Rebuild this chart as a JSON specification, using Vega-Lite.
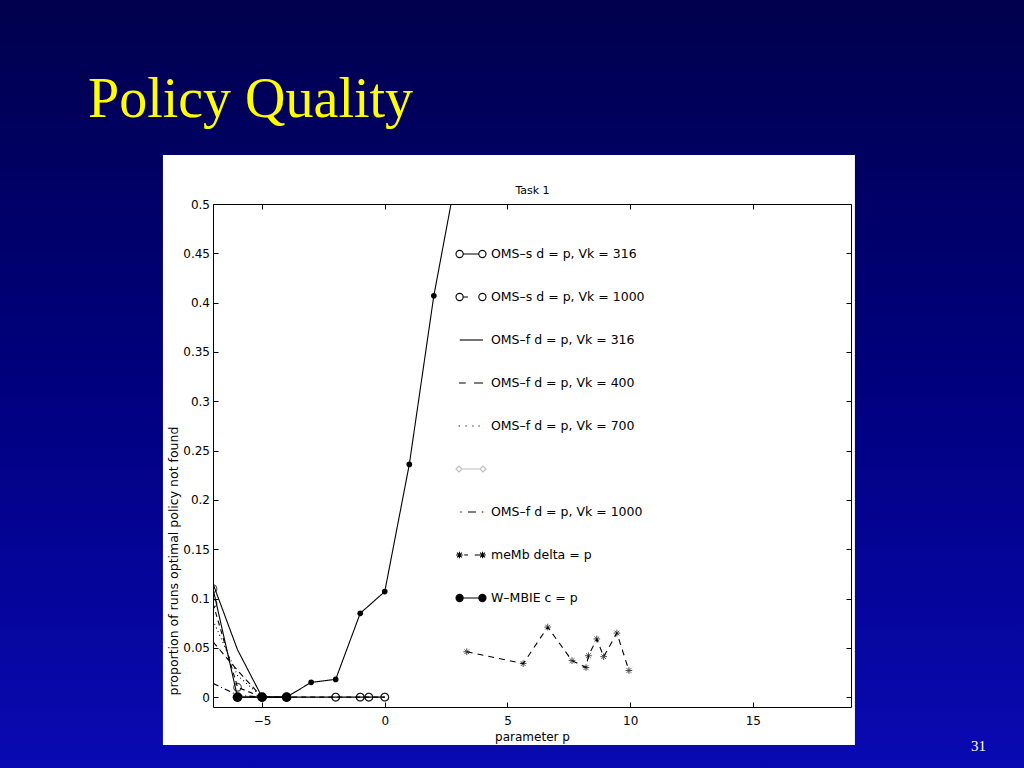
{
  "$schema": "https://vega.github.io/schema/vega-lite/v6.json",
  "width": 638,
  "height": 503,
  "autosize": {"type": "none"},
  "padding": {"left": 213, "top": 204, "right": 173, "bottom": 61},
  "background": "#000080",
  "title": {
    "text": "Policy Quality",
    "anchor": "start",
    "frame": "group",
    "font": "Liberation Serif",
    "fontSize": 56,
    "fontWeight": "normal",
    "color": "#ffff00",
    "dx": -125,
    "dy": 186,
    "baseline": "alphabetic",
    "offset": 0
  },
  "data": {
    "values": [
      {"series": "OMS–s d = p, Vk = 316", "p": -7, "v": 0.11},
      {"series": "OMS–s d = p, Vk = 316", "p": -6, "v": 0},
      {"series": "OMS–s d = p, Vk = 316", "p": -5, "v": 0},
      {"series": "OMS–s d = p, Vk = 316", "p": -4, "v": 0},
      {"series": "OMS–s d = p, Vk = 316", "p": -2, "v": 0},
      {"series": "OMS–s d = p, Vk = 316", "p": -1, "v": 0},
      {"series": "OMS–s d = p, Vk = 316", "p": -0.65, "v": 0},
      {"series": "OMS–s d = p, Vk = 316", "p": 0, "v": 0},
      {"series": "OMS–s d = p, Vk = 1000", "p": -7, "v": 0.095},
      {"series": "OMS–s d = p, Vk = 1000", "p": -6, "v": 0.01},
      {"series": "OMS–s d = p, Vk = 1000", "p": -5, "v": 0},
      {"series": "OMS–s d = p, Vk = 1000", "p": -4, "v": 0},
      {"series": "OMS–s d = p, Vk = 1000", "p": -2, "v": 0},
      {"series": "OMS–s d = p, Vk = 1000", "p": -1, "v": 0},
      {"series": "OMS–s d = p, Vk = 1000", "p": -0.65, "v": 0},
      {"series": "OMS–s d = p, Vk = 1000", "p": 0, "v": 0},
      {"series": "OMS–f d = p, Vk = 316", "p": -7, "v": 0.115},
      {"series": "OMS–f d = p, Vk = 316", "p": -6, "v": 0.048},
      {"series": "OMS–f d = p, Vk = 316", "p": -5, "v": 0},
      {"series": "OMS–f d = p, Vk = 316", "p": -4, "v": 0},
      {"series": "OMS–f d = p, Vk = 400", "p": -7, "v": 0.056},
      {"series": "OMS–f d = p, Vk = 400", "p": -6, "v": 0.027},
      {"series": "OMS–f d = p, Vk = 400", "p": -5, "v": 0},
      {"series": "OMS–f d = p, Vk = 700", "p": -7, "v": 0.078},
      {"series": "OMS–f d = p, Vk = 700", "p": -6, "v": 0.022},
      {"series": "OMS–f d = p, Vk = 700", "p": -5, "v": 0},
      {"series": "OMS–f d = p, Vk = 1000", "p": -7, "v": 0.014},
      {"series": "OMS–f d = p, Vk = 1000", "p": -6, "v": 0.002},
      {"series": "OMS–f d = p, Vk = 1000", "p": -5, "v": 0},
      {"series": "meMb delta = p", "p": 3.34, "v": 0.046},
      {"series": "meMb delta = p", "p": 5.64, "v": 0.034},
      {"series": "meMb delta = p", "p": 6.64, "v": 0.071},
      {"series": "meMb delta = p", "p": 7.63, "v": 0.037},
      {"series": "meMb delta = p", "p": 8.2, "v": 0.03},
      {"series": "meMb delta = p", "p": 8.3, "v": 0.042},
      {"series": "meMb delta = p", "p": 8.64, "v": 0.059},
      {"series": "meMb delta = p", "p": 8.92, "v": 0.041},
      {"series": "meMb delta = p", "p": 9.46, "v": 0.065},
      {"series": "meMb delta = p", "p": 9.95, "v": 0.027},
      {"series": "W–MBIE c = p", "p": -6, "v": 0},
      {"series": "W–MBIE c = p", "p": -5, "v": 0},
      {"series": "W–MBIE c = p", "p": -4, "v": 0},
      {"series": "W–MBIE c = p", "p": -3, "v": 0.015},
      {"series": "W–MBIE c = p", "p": -2, "v": 0.018},
      {"series": "W–MBIE c = p", "p": -1, "v": 0.085},
      {"series": "W–MBIE c = p", "p": 0, "v": 0.107},
      {"series": "W–MBIE c = p", "p": 1, "v": 0.236},
      {"series": "W–MBIE c = p", "p": 2, "v": 0.407},
      {"series": "W–MBIE c = p", "p": 3, "v": 0.54}
    ]
  },
  "resolve": {"axis": {"x": "independent", "y": "independent"}},
  "layer": [
    {
      "data": {"values": [{}]},
      "mark": {
        "type": "rect",
        "clip": false,
        "fill": {
          "gradient": "linear", "x1": 0, "y1": 0, "x2": 0, "y2": 1,
          "stops": [
            {"offset": 0, "color": "#00004c"},
            {"offset": 0.5, "color": "#00007e"},
            {"offset": 1, "color": "#0a0ab4"}
          ]
        }
      },
      "encoding": {
        "x": {"datum": -16, "type": "quantitative", "scale": {"domain": [-7, 19], "nice": false, "zero": false}, "axis": null},
        "x2": {"datum": 27},
        "y": {"datum": 0.72, "type": "quantitative", "scale": {"domain": [-0.01, 0.5], "nice": false, "zero": false}, "axis": null},
        "y2": {"datum": -0.08}
      }
    },
    {
      "data": {"values": [{}]},
      "mark": {"type": "rect", "clip": false, "fill": "#ffffff"},
      "encoding": {
        "x": {"datum": -9.04, "type": "quantitative", "axis": null},
        "x2": {"datum": 19.16},
        "y": {"datum": 0.5497, "type": "quantitative", "axis": null},
        "y2": {"datum": -0.0485}
      }
    },
    {
      "mark": {"type": "line", "clip": true, "color": "#000000", "strokeWidth": 1.1},
      "encoding": {
        "x": {
          "field": "p", "type": "quantitative",
          "axis": {
            "orient": "bottom", "zindex": 1, "values": [-5, 0, 5, 10, 15], "format": "~g",
            "tickSize": -5, "labelPadding": 13,
            "title": "parameter p", "titleX": 319, "titleY": 33,
            "titleAlign": "center", "titleBaseline": "alphabetic", "titleFontSize": 12
          }
        },
        "y": {
          "field": "v", "type": "quantitative",
          "axis": {
            "orient": "left", "zindex": 1, "values": [0, 0.05, 0.1, 0.15, 0.2, 0.25, 0.3, 0.35, 0.4, 0.45, 0.5], "format": "~g",
            "tickSize": -5, "labelPadding": 8.5,
            "title": "proportion of runs optimal policy not found",
            "titleX": -36, "titleY": 491, "titleAngle": 270, "titleAlign": "left",
            "titleBaseline": "alphabetic", "titleFontSize": 12.5
          }
        },
        "strokeDash": {
          "field": "series", "type": "nominal",
          "scale": {
            "domain": ["OMS–s d = p, Vk = 316", "OMS–s d = p, Vk = 1000", "OMS–f d = p, Vk = 316", "OMS–f d = p, Vk = 400", "OMS–f d = p, Vk = 700", "OMS–f d = p, Vk = 1000", "meMb delta = p", "W–MBIE c = p"],
            "range": [[1, 0], [5, 4], [1, 0], [6, 4], [1, 3], [6, 3, 1, 3], [6, 5], [1, 0]]
          },
          "legend": null
        }
      }
    },
    {
      "transform": [{"filter": {"field": "series", "oneOf": ["OMS–s d = p, Vk = 316", "OMS–s d = p, Vk = 1000"]}}],
      "mark": {"type": "point", "shape": "circle", "filled": false, "stroke": "#000000", "strokeWidth": 1.1, "size": 60, "clip": true},
      "encoding": {
        "x": {"field": "p", "type": "quantitative", "axis": null},
        "y": {"field": "v", "type": "quantitative", "axis": null}
      }
    },
    {
      "transform": [{"filter": {"field": "series", "equal": "meMb delta = p"}}],
      "mark": {"type": "point", "shape": "M-1,0L1,0M0,-1L0,1M-0.7,-0.7L0.7,0.7M-0.7,0.7L0.7,-0.7", "filled": false, "stroke": "#000000", "strokeWidth": 1, "size": 45, "clip": true},
      "encoding": {
        "x": {"field": "p", "type": "quantitative", "axis": null},
        "y": {"field": "v", "type": "quantitative", "axis": null}
      }
    },
    {
      "transform": [{"filter": {"field": "series", "equal": "W–MBIE c = p"}}],
      "mark": {"type": "point", "shape": "circle", "filled": true, "color": "#000000", "opacity": 1, "clip": true},
      "encoding": {
        "x": {"field": "p", "type": "quantitative", "axis": null},
        "y": {"field": "v", "type": "quantitative", "axis": null},
        "size": {"condition": {"test": "datum.v === 0", "value": 95}, "value": 32}
      }
    },
    {
      "mark": {"type": "point", "opacity": 0, "clip": true},
      "encoding": {
        "x": {
          "field": "p", "type": "quantitative",
          "axis": {
            "orient": "top", "zindex": 1, "values": [-5, 0, 5, 10, 15], "labels": false, "tickSize": -5,
            "title": "Task 1", "titleX": 319, "titleY": -11, "titleAlign": "center",
            "titleBaseline": "alphabetic", "titleFontSize": 11
          }
        },
        "y": {
          "field": "v", "type": "quantitative",
          "axis": {
            "orient": "right", "zindex": 1, "values": [0, 0.05, 0.1, 0.15, 0.2, 0.25, 0.3, 0.35, 0.4, 0.45, 0.5], "labels": false, "tickSize": -5,
            "title": "31", "titleX": 127, "titleY": 546, "titleAngle": 0, "titleAlign": "center",
            "titleBaseline": "alphabetic", "titleFont": "Liberation Serif", "titleFontSize": 15, "titleColor": "#ffffff"
          }
        },
        "shape": {
          "field": "series", "type": "nominal",
          "scale": {
            "domain": ["OMS–s d = p, Vk = 316", "OMS–s d = p, Vk = 1000", "OMS–f d = p, Vk = 316", "OMS–f d = p, Vk = 400", "OMS–f d = p, Vk = 700", " ", "OMS–f d = p, Vk = 1000", "meMb delta = p", "W–MBIE c = p"],
            "range": [
              "M-1,0a0.24,0.24 0 1,0 0.48,0a0.24,0.24 0 1,0 -0.48,0M-0.52,0L0.52,0M0.52,0a0.24,0.24 0 1,0 0.48,0a0.24,0.24 0 1,0 -0.48,0",
              "M-1,0a0.24,0.24 0 1,0 0.48,0a0.24,0.24 0 1,0 -0.48,0M-0.5,0L-0.2,0M0.52,0a0.24,0.24 0 1,0 0.48,0a0.24,0.24 0 1,0 -0.48,0",
              "M-0.75,0L0.8,0",
              "M-0.8,0L-0.35,0M0.2,0L0.8,0",
              "M-0.82,0L-0.74,0M-0.37,0L-0.29,0M0.09,0L0.17,0M0.5,0L0.58,0",
              "M-1,0L-0.8,-0.2L-0.6,0L-0.8,0.2ZM-0.6,0L0.6,0M0.6,0L0.8,-0.2L1,0L0.8,0.2Z",
              "M-0.72,0L-0.62,0M-0.2,0L0.33,0M0.72,0L0.82,0",
              "M-0.99,0L-0.55,0M-0.77,-0.22L-0.77,0.22M-0.93,-0.16L-0.61,0.16M-0.93,0.16L-0.61,-0.16M-0.45,0L-0.2,0M0.25,0L0.55,0M0.55,0L0.99,0M0.77,-0.22L0.77,0.22M0.61,-0.16L0.93,0.16M0.61,0.16L0.93,-0.16",
              "M-1,0a0.24,0.24 0 1,0 0.48,0a0.24,0.24 0 1,0 -0.48,0M-0.52,0L0.52,0M0.52,0a0.24,0.24 0 1,0 0.48,0a0.24,0.24 0 1,0 -0.48,0"
            ]
          },
          "legend": {
            "orient": "none", "legendX": 242, "legendY": 34, "title": null,
            "symbolSize": 900, "symbolStrokeWidth": 1.1, "symbolOpacity": 1,
            "labelFont": "DejaVu Sans", "labelFontSize": 12.5, "labelColor": "#000000",
            "labelOffset": 4, "labelLimit": 300, "rowPadding": 20, "zindex": 1
          }
        },
        "fill": {
          "field": "series", "type": "nominal",
          "scale": {
            "domain": ["OMS–s d = p, Vk = 316", "OMS–s d = p, Vk = 1000", "OMS–f d = p, Vk = 316", "OMS–f d = p, Vk = 400", "OMS–f d = p, Vk = 700", " ", "OMS–f d = p, Vk = 1000", "meMb delta = p", "W–MBIE c = p"],
            "range": ["#ffffff", "#ffffff", "#ffffff", "#ffffff", "#ffffff", "#ffffff", "#ffffff", "#ffffff", "#000000"]
          }
        },
        "stroke": {
          "field": "series", "type": "nominal",
          "scale": {
            "domain": ["OMS–s d = p, Vk = 316", "OMS–s d = p, Vk = 1000", "OMS–f d = p, Vk = 316", "OMS–f d = p, Vk = 400", "OMS–f d = p, Vk = 700", " ", "OMS–f d = p, Vk = 1000", "meMb delta = p", "W–MBIE c = p"],
            "range": ["#000000", "#000000", "#000000", "#000000", "#000000", "#bdbdbd", "#000000", "#000000", "#000000"]
          }
        }
      }
    }
  ],
  "config": {
    "view": {"stroke": null},
    "axis": {
      "grid": false,
      "domainColor": "#000000", "domainWidth": 1, "tickColor": "#000000", "tickWidth": 1,
      "labelColor": "#000000", "labelFont": "DejaVu Sans", "labelFontSize": 12,
      "titleFont": "DejaVu Sans", "titleFontWeight": "normal", "titleColor": "#000000"
    }
  }
}
